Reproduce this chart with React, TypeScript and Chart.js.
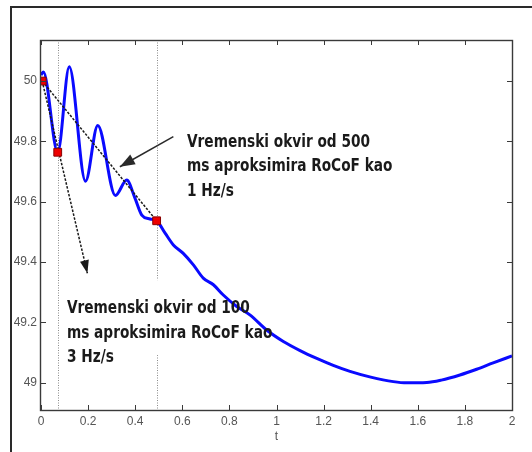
import React, { useEffect, useRef } from "react";
import { Chart, registerables } from "chart.js";

Chart.register(...registerables);

// ---- data ----
const timeS = [
  0, 0.01, 0.071, 0.12, 0.189, 0.241, 0.316, 0.364, 0.399, 0.428, 0.463, 0.491,
  0.527, 0.562, 0.604, 0.647, 0.689, 0.732, 0.774, 0.831, 0.887, 0.958, 1.029,
  1.1, 1.171, 1.241, 1.312, 1.4, 1.496, 1.553, 1.638, 1.7, 1.779, 1.85, 1.92, 2.0,
];
const freqHz = [
  50.02, 50.03, 49.764, 50.047, 49.668, 49.853, 49.621, 49.672, 49.612, 49.556, 49.543, 49.537,
  49.496, 49.457, 49.429, 49.391, 49.347, 49.325, 49.291, 49.253, 49.225, 49.175, 49.137,
  49.107, 49.081, 49.058, 49.038, 49.019, 49.004, 49.0, 49.001, 49.009, 49.026, 49.045, 49.066, 49.089,
];
const markerTimeS = [0.005, 0.071, 0.491];
const markerFreqHz = [50.0, 49.764, 49.537];
const windowEdgeTimeS = [0.071, 0.491];
const rocof500TimeS = [0.005, 0.491];
const rocof500FreqHz = [50.0, 49.537];
const rocof100TimeS = [0.005, 0.197];
const rocof100FreqHz = [50.0, 49.363];
const pointerTimeS = [0.562, 0.335];
const pointerFreqHz = [49.816, 49.716];
const xTickValues = [0, 0.2, 0.4, 0.6, 0.8, 1, 1.2, 1.4, 1.6, 1.8, 2];
const yTickValues = [49, 49.2, 49.4, 49.6, 49.8, 50];
const note500Lines = ["Vremenski okvir od 500", "ms aproksimira RoCoF kao", "1 Hz/s"];
const note100Lines = ["Vremenski okvir od 100", "ms aproksimira RoCoF kao", "3 Hz/s"];
const xTitle = "t";

// annotation anchors (data coordinates, baseline-left of first line)
const NOTE500_AT = { t: 0.62, f: 49.783 };
const NOTE100_AT = { t: 0.11, f: 49.231 };

const pts = (xs: number[], ys: number[]) => xs.map((x, i) => ({ x, y: ys[i] }));
const fmt = (v: number) => String(Number(v.toFixed(1)));

function arrowHead(ctx: CanvasRenderingContext2D, x0: number, y0: number, x1: number, y1: number, len: number, hw: number, color: string) {
  const a = Math.atan2(y1 - y0, x1 - x0);
  ctx.save();
  ctx.translate(x1, y1);
  ctx.rotate(a);
  ctx.beginPath();
  ctx.moveTo(0, 0);
  ctx.lineTo(-len, -hw);
  ctx.lineTo(-len, hw);
  ctx.closePath();
  ctx.fillStyle = color;
  ctx.fill();
  ctx.restore();
}

const overlayPlugin = {
  id: "overlay",
  beforeDatasetsDraw(chart: any) {
    const { ctx, chartArea, scales } = chart;
    const { top, bottom } = chartArea;
    const x = scales.x;
    const y = scales.y;
    ctx.save();
    ctx.strokeStyle = "#8a8a8a";
    ctx.lineWidth = 1;
    ctx.setLineDash([1, 1.5]);
    for (const t of windowEdgeTimeS) {
      const px = Math.round(x.getPixelForValue(t)) + 0.5;
      ctx.beginPath();
      ctx.moveTo(px, top);
      ctx.lineTo(px, bottom);
      ctx.stroke();
    }
    ctx.setLineDash([]);
    const ax = x.getPixelForValue(NOTE100_AT.t);
    const ay = y.getPixelForValue(NOTE100_AT.f);
    ctx.fillStyle = "#ffffff";
    ctx.fillRect(ax - 5, ay - 33, 190, 75);
    ctx.restore();
  },
  afterDatasetsDraw(chart: any) {
    const { ctx, scales } = chart;
    const x = scales.x;
    const y = scales.y;
    const px = (t: number) => x.getPixelForValue(t);
    const py = (f: number) => y.getPixelForValue(f);
    arrowHead(ctx, px(rocof100TimeS[0]), py(rocof100FreqHz[0]), px(rocof100TimeS[1]), py(rocof100FreqHz[1]), 13, 4.5, "#1a1a1a");
    arrowHead(ctx, px(pointerTimeS[0]), py(pointerFreqHz[0]), px(pointerTimeS[1]), py(pointerFreqHz[1]), 15, 5.5, "#2a2a2a");
    ctx.save();
    ctx.font = 'bold 18px "DejaVu Sans"';
    ctx.textAlign = "left";
    ctx.textBaseline = "alphabetic";
    ctx.fillStyle = "#1a1a1a";
    const sx = 183 / ctx.measureText(note500Lines[0]).width;
    const drawNote = (lines: string[], at: { t: number; f: number }) => {
      const ax = px(at.t);
      const ay = py(at.f);
      lines.forEach((line, i) => {
        ctx.save();
        ctx.translate(ax, ay + i * 24.5);
        ctx.scale(sx, 1);
        ctx.fillText(line, 0, 0);
        ctx.restore();
      });
    };
    drawNote(note500Lines, NOTE500_AT);
    drawNote(note100Lines, NOTE100_AT);
    ctx.restore();
  },
  afterDraw(chart: any) {
    const { ctx, chartArea, scales } = chart;
    const { left, right, top, bottom } = chartArea;
    const x = scales.x;
    const y = scales.y;
    ctx.save();
    ctx.strokeStyle = "#3a3a3a";
    ctx.lineWidth = 1.4;
    ctx.strokeRect(left - 0.5, top + 0.5, right - left + 1, bottom - top);
    ctx.lineWidth = 1;
    ctx.beginPath();
    for (const v of xTickValues) {
      const p = Math.round(x.getPixelForValue(v)) + 0.5;
      ctx.moveTo(p, bottom);
      ctx.lineTo(p, bottom - 5);
      ctx.moveTo(p, top);
      ctx.lineTo(p, top + 5);
    }
    for (const v of yTickValues) {
      const p = Math.round(y.getPixelForValue(v)) + 0.5;
      ctx.moveTo(left, p);
      ctx.lineTo(left + 5, p);
      ctx.moveTo(right, p);
      ctx.lineTo(right - 5, p);
    }
    ctx.stroke();
    ctx.restore();
  },
};

export default function App() {
  const ref = useRef<HTMLCanvasElement | null>(null);

  useEffect(() => {
    if (!ref.current) return;
    const tickFont = { family: '"Liberation Sans", Arial, sans-serif', size: 12 };
    const chart = new Chart(ref.current, {
      type: "scatter",
      data: {
        datasets: [
          {
            label: "markers",
            data: pts(markerTimeS, markerFreqHz),
            showLine: false,
            pointStyle: "rect",
            pointRadius: 5.5,
            backgroundColor: "#ee0000",
            borderColor: "#8a0000",
            borderWidth: 1,
          },
          {
            label: "rocof100",
            data: pts(rocof100TimeS, rocof100FreqHz),
            showLine: true,
            pointRadius: 0,
            borderColor: "#1a1a1a",
            borderWidth: 1.5,
            borderDash: [2.5, 1.5],
          },
          {
            label: "rocof500",
            data: pts(rocof500TimeS, rocof500FreqHz),
            showLine: true,
            pointRadius: 0,
            borderColor: "#1a1a1a",
            borderWidth: 1.5,
            borderDash: [2.5, 1.5],
          },
          {
            label: "pointer",
            data: pts(pointerTimeS, pointerFreqHz),
            showLine: true,
            pointRadius: 0,
            borderColor: "#2a2a2a",
            borderWidth: 1.5,
          },
          {
            label: "f",
            data: pts(timeS, freqHz),
            showLine: true,
            pointRadius: 0,
            borderColor: "#0a0aff",
            borderWidth: 3,
            cubicInterpolationMode: "monotone",
          },
        ],
      },
      options: {
        responsive: false,
        animation: false,
        events: [],
        layout: { padding: { left: 0, top: 40, right: 20, bottom: 0 } },
        plugins: { legend: { display: false }, tooltip: { enabled: false } },
        scales: {
          x: {
            type: "linear",
            min: 0,
            max: 2,
            grid: { display: false, drawTicks: false },
            border: { display: false },
            afterBuildTicks: (s: any) => {
              s.ticks = xTickValues.map((v) => ({ value: v }));
            },
            afterFit: (s: any) => {
              s.height = 42;
            },
            ticks: {
              padding: 4,
              color: "#555",
              font: tickFont,
              maxRotation: 0,
              autoSkip: false,
              callback: (v: any) => fmt(Number(v)),
            },
            title: {
              display: true,
              text: xTitle,
              color: "#555",
              font: tickFont,
              padding: { top: 0, bottom: 8 },
            },
          },
          y: {
            type: "linear",
            min: 48.91,
            max: 50.136,
            grid: { display: false, drawTicks: false },
            border: { display: false },
            afterBuildTicks: (s: any) => {
              s.ticks = yTickValues.map((v) => ({ value: v }));
            },
            afterFit: (s: any) => {
              s.width = 41;
            },
            ticks: {
              padding: 4,
              color: "#555",
              font: tickFont,
              autoSkip: false,
              callback: (v: any) => fmt(Number(v)),
            },
          },
        },
      },
      plugins: [overlayPlugin],
    } as any);
    return () => chart.destroy();
  }, []);

  return (
    <div style={{ position: "fixed", left: 0, top: 0, width: 532, height: 452, background: "#fff" }}>
      <div
        style={{
          position: "absolute",
          left: 10,
          top: 6,
          right: 0,
          bottom: 0,
          borderTop: "2px solid #2a2a2a",
          borderLeft: "2px solid #2a2a2a",
          pointerEvents: "none",
        }}
      />
      <canvas ref={ref} width={532} height={452} style={{ position: "absolute", left: 0, top: 0, display: "block" }} />
    </div>
  );
}
